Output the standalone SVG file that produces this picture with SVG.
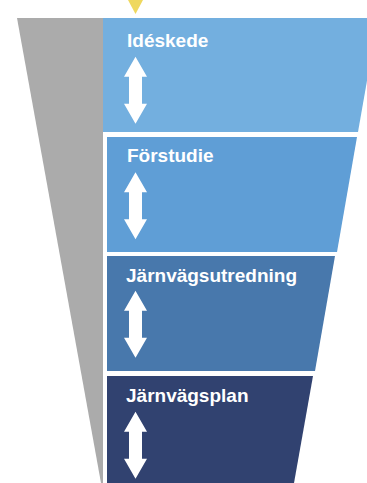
<svg xmlns="http://www.w3.org/2000/svg" xmlns:xlink="http://www.w3.org/1999/xlink" width="367" height="483" viewBox="0 0 367 483">
  <style>
    .label { font-family: "Liberation Sans", Arial, sans-serif; font-weight: bold; font-size: 19px; fill: #FFFFFF; }
    .arrow { fill: #FFFFFF; }
  </style>
  <defs>
    <path id="dblArrow" d="M0,0 L11.5,20 L6.5,20 L6.5,47 L11.5,47 L0,67 L-11.5,47 L-6.5,47 L-6.5,20 L-11.5,20 Z"/>
  </defs>
  <rect width="367" height="483" fill="#FFFFFF"/>
  <polygon points="17,18 103,18 103,483 101,483" fill="#ABABAB"/>
  <polygon points="128,0 143,0 135.5,14" fill="#EFD85F"/>
  <g id="ideskede">
    <polygon points="103,18 378,18 358,132 103,132" fill="#73AFDF"/>
    <text class="label" x="127" y="47">Idéskede</text>
    <use xlink:href="#dblArrow" class="arrow" transform="translate(135.5,56.7)"/>
  </g>
  <g id="forstudie">
    <polygon points="107,137 357,137 337,252 107,252" fill="#5F9ED6"/>
    <text class="label" x="127" y="162.3">Förstudie</text>
    <use xlink:href="#dblArrow" class="arrow" transform="translate(135.5,172.3)"/>
  </g>
  <g id="jarnvagsutredning">
    <polygon points="107,256 335,256 315,371 107,371" fill="#4878AC"/>
    <text class="label" x="126" y="281.7">Järnvägsutredning</text>
    <use xlink:href="#dblArrow" class="arrow" transform="translate(135.5,290.7)"/>
  </g>
  <g id="jarnvagsplan">
    <polygon points="107,376 313,376 294,483 107,483" fill="#314270"/>
    <text class="label" x="126" y="401.7">Järnvägsplan</text>
    <use xlink:href="#dblArrow" class="arrow" transform="translate(135.5,411.7)"/>
  </g>
</svg>
